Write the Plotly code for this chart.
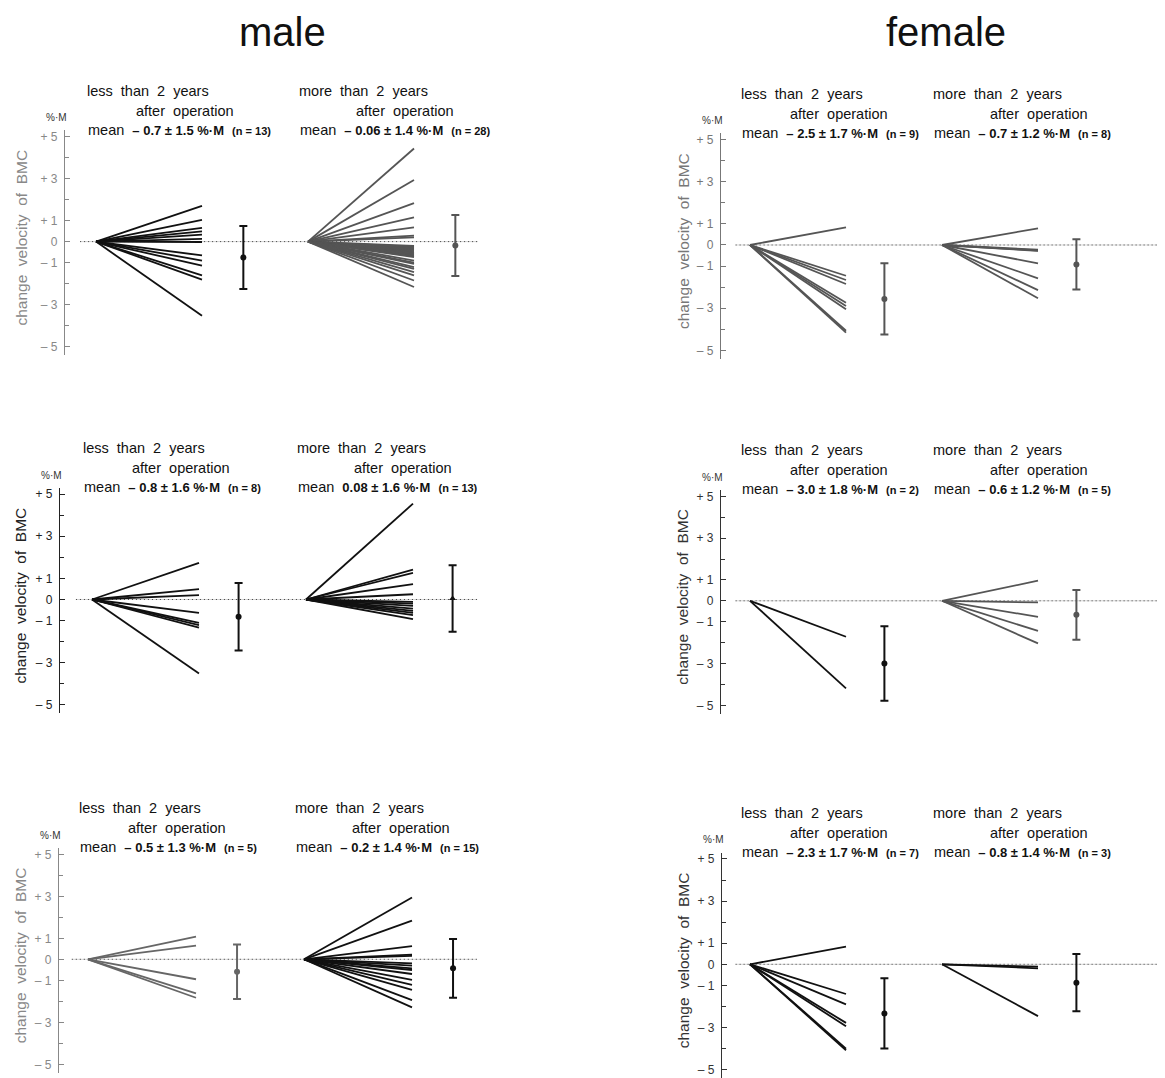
import plotly.graph_objects as go

W, H = 1165, 1078

# ---------------- data (end values of each patient's line, %·M) ----------------
male_top_less = [1.70, 1.03, 0.65, 0.49, 0.33, 0.13, -0.02, -0.66, -0.90, -1.14, -1.61, -1.81, -3.53]
male_top_more = [4.43, 2.93, 1.83, 1.15, 0.68, 0.28, 0.20, -0.20, -0.25, -0.30, -0.35, -0.40,
                 -0.45, -0.50, -0.55, -0.60, -0.65, -0.70, -0.74, -0.90, -1.00, -1.06, -1.21,
                 -1.30, -1.45, -1.61, -1.85, -2.16]
male_mid_less = [1.74, 0.49, 0.21, -0.63, -1.11, -1.22, -1.33, -3.51]
male_mid_more = [4.55, 1.42, 1.26, 0.73, 0.25, -0.11, -0.20, -0.30, -0.43, -0.54, -0.63, -0.74, -0.93]
male_bot_less = [1.08, 0.65, -0.95, -1.62, -1.83]
male_bot_more = [2.94, 1.84, 0.63, 0.22, 0.16, -0.19, -0.30, -0.43, -0.51, -0.70, -0.98, -1.22,
                 -1.46, -1.94, -2.29]
fem_top_less = [0.84, -1.46, -1.66, -1.85, -2.74, -2.90, -3.05, -4.07, -4.16]
fem_top_more = [0.79, -0.22, -0.26, -0.28, -0.87, -1.58, -2.14, -2.53]
fem_mid_less = [-1.72, -4.19]
fem_mid_more = [0.96, -0.08, -0.77, -1.44, -2.04]
fem_bot_less = [0.84, -1.41, -1.90, -2.78, -2.94, -4.00, -4.08]
fem_bot_more = [-0.11, -0.19, -2.46]

# drawn mean and SD for each group (less, more)
means = {1: (-0.76, -0.19), 2: (-2.56, -0.92), 3: (-0.82, 0.05),
         4: (-3.00, -0.67), 5: (-0.59, -0.43), 6: (-2.33, -0.87)}
sds = {1: (1.50, 1.45), 2: (1.69, 1.19), 3: (1.60, 1.58),
       4: (1.78, 1.19), 5: (1.30, 1.40), 6: (1.67, 1.36)}

mean_texts = {
    1: ("– 0.7 ± 1.5 %·M", "(n = 13)", "– 0.06 ± 1.4 %·M", "(n = 28)"),
    2: ("– 2.5 ± 1.7 %·M", "(n = 9)", "– 0.7 ± 1.2 %·M", "(n = 8)"),
    3: ("– 0.8 ± 1.6 %·M", "(n = 8)", "0.08 ± 1.6 %·M", "(n = 13)"),
    4: ("– 3.0 ± 1.8 %·M", "(n = 2)", "– 0.6 ± 1.2 %·M", "(n = 5)"),
    5: ("– 0.5 ± 1.3 %·M", "(n = 5)", "– 0.2 ± 1.4 %·M", "(n = 15)"),
    6: ("– 2.3 ± 1.7 %·M", "(n = 7)", "– 0.8 ± 1.4 %·M", "(n = 3)"),
}

tick_vals = [5, 3, 1, 0, -1, -3, -5]
tick_text = ["+ 5", "+ 3", "+ 1", "0", "– 1", "– 3", "– 5"]
minor_vals = [4, 2, -2, -4]

panel_data = {1: (male_top_less, male_top_more), 2: (fem_top_less, fem_top_more),
              3: (male_mid_less, male_mid_more), 4: (fem_mid_less, fem_mid_more),
              5: (male_bot_less, male_bot_more), 6: (fem_bot_less, fem_bot_more)}

# ---------------- layout constants (pixels in the screenshot) ----------------
panels = {
    1: dict(axis=65, origin=96, ux=106, right=500, zero=241.6, uy=21.02, eo=1.39, tx=22,
            cols=("#111111", "#555555"), acol="#888888", sym=("circle", "circle")),
    2: dict(axis=721, origin=750, ux=96, right=1173, zero=245.0, uy=21.07, eo=1.40, tx=683,
            cols=("#555555", "#555555"), acol="#777777", sym=("circle", "circle")),
    3: dict(axis=60, origin=92, ux=107, right=500, zero=599.5, uy=21.07, eo=1.37, tx=20,
            cols=("#111111", "#111111"), acol="#222222", sym=("circle", "triangle-up")),
    4: dict(axis=721, origin=750, ux=96, right=1173, zero=600.8, uy=20.9, eo=1.40, tx=683,
            cols=("#111111", "#555555"), acol="#333333", sym=("circle", "circle")),
    5: dict(axis=59, origin=88, ux=108, right=500, zero=959.3, uy=21.0, eo=1.38, tx=20,
            cols=("#666666", "#111111"), acol="#888888", sym=("circle", "circle")),
    6: dict(axis=722, origin=750, ux=96, right=1173, zero=964.3, uy=21.07, eo=1.40, tx=683,
            cols=("#111111", "#111111"), acol="#333333", sym=("circle", "circle")),
}
group_x = [0.0, 2.0]
YMIN, YMAX = -5.4, 5.3
OFF = 8  # page body margin

FONT = "Liberation Sans, Arial, sans-serif"

fig = go.Figure()
layout = dict(width=W, height=H, margin=dict(l=0, r=0, t=0, b=0),
              paper_bgcolor="white", plot_bgcolor="white", showlegend=False,
              font=dict(family=FONT, color="#111111"))
annotations = []


def px(x):
    return (x - OFF) / W


def py(y):
    return 1 - (y - OFF) / H


for i, p in panels.items():
    xa = "xaxis" if i == 1 else f"xaxis{i}"
    ya = "yaxis" if i == 1 else f"yaxis{i}"
    xr = "x" if i == 1 else f"x{i}"
    yr = "y" if i == 1 else f"y{i}"
    x0 = (p["axis"] - p["origin"]) / p["ux"]
    x1 = (p["right"] - p["origin"]) / p["ux"]
    top = p["zero"] - YMAX * p["uy"]
    bot = p["zero"] - YMIN * p["uy"]
    layout[xa] = dict(domain=[px(p["axis"]), min(1, px(p["right"]))], range=[x0, x1],
                      visible=False, anchor=yr)
    layout[ya] = dict(domain=[max(0, py(bot)), min(1, py(top))], range=[YMIN, YMAX], anchor=xr,
                      showgrid=False, zeroline=False, showline=True, linecolor=p["acol"],
                      linewidth=1.3, tickvals=tick_vals, ticktext=tick_text,
                      ticks="inside", ticklen=5, tickcolor=p["acol"], tickwidth=1.2,
                      tickfont=dict(size=12, color=p["acol"], family=FONT),
                      ticklabelstandoff=4,
                      minor=dict(tickvals=minor_vals, ticks="inside", ticklen=4,
                                 tickcolor=p["acol"], tickwidth=1.2))

    # dotted zero line
    zend = 3.6 if p["right"] <= 500 else x1
    fig.add_trace(go.Scatter(x=[-0.15, zend], y=[0, 0], mode="lines", xaxis=xr, yaxis=yr,
                             line=dict(color="#d5d5d5", width=1), hoverinfo="skip"))
    fig.add_trace(go.Scatter(x=[-0.15, zend], y=[0, 0], mode="lines", xaxis=xr, yaxis=yr,
                             line=dict(color="#444444", width=1, dash="1px,3px"), hoverinfo="skip"))

    for g in range(2):
        vals = panel_data[i][g]
        xs, ys = [], []
        for v in vals:
            xs += [group_x[g], group_x[g] + 1.0, None]
            ys += [0, v, None]
        fig.add_trace(go.Scatter(x=xs, y=ys, mode="lines", xaxis=xr, yaxis=yr,
                                 line=dict(color=p["cols"][g], width=1.8), hoverinfo="skip"))
        m, s = means[i][g], sds[i][g]
        fig.add_trace(go.Scatter(x=[group_x[g] + p["eo"]], y=[m], mode="markers", xaxis=xr, yaxis=yr,
                                 marker=dict(color=p["cols"][g], size=6, symbol=p["sym"][g]),
                                 error_y=dict(type="data", array=[s], visible=True,
                                              color=p["cols"][g], thickness=2, width=4)))

    # texts
    top5 = p["zero"] - 5 * p["uy"]
    acol = p["acol"]
    annotations.append(dict(x=px(p["axis"] - 9), y=py(top5 - 19), xref="paper", yref="paper",
                            text="%·M", showarrow=False, xanchor="center", yanchor="middle",
                            font=dict(size=10, color="#333333", family=FONT)))
    annotations.append(dict(x=px(p["tx"]), y=py(p["zero"] - 4), xref="paper", yref="paper",
                            text="change  velocity  of  BMC", textangle=-90, showarrow=False,
                            xanchor="center", yanchor="middle",
                            font=dict(size=15.5, color=acol, family=FONT)))
    mt = mean_texts[i]
    for g in range(2):
        gx = p["origin"] + group_x[g] * p["ux"]
        head = "less  than  2  years" if g == 0 else "more  than  2  years"
        annotations.append(dict(x=px(gx - 11), y=py(top5 - 46), xref="paper", yref="paper",
                                text=head, showarrow=False, xanchor="left", yanchor="middle",
                                font=dict(size=14.5, color="#111111", family=FONT)))
        annotations.append(dict(x=px(gx + (38 if g == 0 else 46)), y=py(top5 - 26), xref="paper",
                                yref="paper", text="after  operation", showarrow=False,
                                xanchor="left", yanchor="middle",
                                font=dict(size=14.5, color="#111111", family=FONT)))
        txt = (f"mean  <span style='font-size:13px'><b>{mt[2*g]}</b></span>"
               f"  <span style='font-size:11px'><b>{mt[2*g+1]}</b></span>")
        annotations.append(dict(x=px(gx - 10), y=py(top5 - 7), xref="paper", yref="paper",
                                text=txt, showarrow=False, xanchor="left", yanchor="middle",
                                font=dict(size=14.5, color="#111111", family=FONT)))

annotations.append(dict(x=px(282), y=py(8), xref="paper", yref="paper", text="male",
                        xanchor="center", yanchor="top",
                        showarrow=False, font=dict(size=40, color="#111111", family=FONT)))
annotations.append(dict(x=px(946), y=py(8), xref="paper", yref="paper", text="female",
                        xanchor="center", yanchor="top",
                        showarrow=False, font=dict(size=40, color="#111111", family=FONT)))

layout["annotations"] = annotations
fig.update_layout(**layout)
fig.write_html("out.html")
